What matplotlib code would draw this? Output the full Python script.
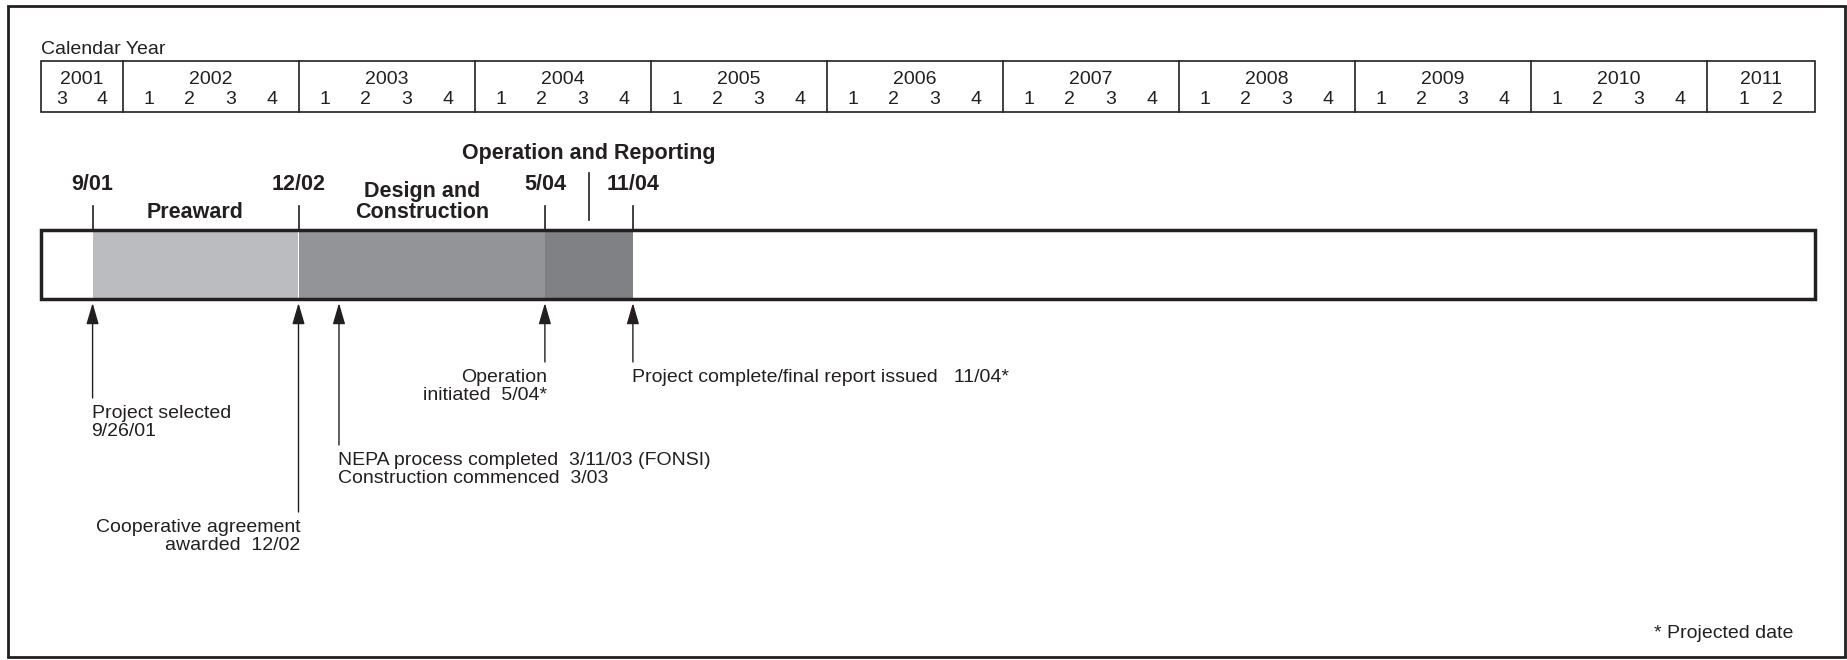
import matplotlib
matplotlib.use('Agg')
import matplotlib.pyplot as plt
from matplotlib.patches import Rectangle

plt.rcParams['font.family'] = ['Liberation Sans', 'DejaVu Sans']

# calendar header
years = list(range(2001, 2012))
year_quarters = {2001: [3, 4], 2011: [1, 2]}
table_start, table_end = 2001.537, 2011.616

# project phases
phases = ['Preaward', 'Design and\nConstruction', 'Operation and Reporting']
phase_start = [2001.83, 2003.0, 2004.40]
phase_end = [2003.0, 2004.40, 2004.90]
phase_colors = ['#bbbcbf', '#939497', '#808184']

# milestone dates above the bar
milestone_labels = ['9/01', '12/02', '5/04', '11/04']
milestone_x = [2001.83, 2003.0, 2004.40, 2004.90]

# events below the bar
events = ['Project selected\n9/26/01',
          'Cooperative agreement\nawarded  12/02',
          'NEPA process completed  3/11/03 (FONSI)\nConstruction commenced  3/03',
          'Operation\ninitiated  5/04*',
          'Project complete/final report issued   11/04*']
event_x = [2001.83, 2003.0, 2003.23, 2004.40, 2004.90]
event_tail = [398, 512, 445, 362, 362]
event_ha = ['left', 'right', 'left', 'right', 'left']

W, H = 1847, 660
fig = plt.figure(figsize=(W / 100, H / 100), dpi=100)
ax = fig.add_axes([0, 0, 1, 1])
px = 1 / 176.0  # one pixel in year units
ax.set_xlim(2002 - 122.5 * px, 2002 + (W - 122.5) * px)
ax.set_ylim(H, 0)
ax.axis('off')

ink = '#231f20'

# outer frame
fig.add_artist(Rectangle((8 / W, 1 - 657 / H), 1837 / W, 651 / H, transform=fig.transFigure,
                         fill=False, lw=2, ec=ink))

FS = 14
BFS = 15.5
ax.text(table_start, 49, 'Calendar Year', ha='left', va='center', fontsize=FS, color=ink)
ax.add_patch(Rectangle((table_start, 61), table_end - table_start, 51, fill=False, lw=1.2, ec=ink))
for y in years:
    lo = max(y, table_start)
    hi = min(y + 1, table_end)
    if y > years[0]:
        ax.plot([y, y], [61, 112], color=ink, lw=1.2)
    qs = year_quarters.get(y, [1, 2, 3, 4])
    center = (lo + hi) / 2
    ax.text(center, 80, str(y), ha='center', va='center', fontsize=FS, color=ink)
    step = 0.195 if y == years[-1] else 0.234
    for i, q in enumerate(qs):
        ax.text(center + (i - (len(qs) - 1) / 2) * step, 100, str(q), ha='center', va='center',
                fontsize=FS, color=ink)

# phase bar
for s, e, c in zip(phase_start, phase_end, phase_colors):
    ax.add_patch(Rectangle((s, 230), e - s, 69, color=c, lw=0, zorder=1))
ax.add_patch(Rectangle((table_start, 230), table_end - table_start, 69, fill=False, lw=2.5,
                       ec=ink, zorder=3))

for lab, x in zip(milestone_labels, milestone_x):
    ax.plot([x, x], [206, 230], color=ink, lw=1.2)
    ax.text(x, 184, lab, ha='center', va='center', fontsize=BFS, fontweight='bold', color=ink)

mids = [(s + e) / 2 for s, e in zip(phase_start, phase_end)]
ax.text(mids[0], 213, phases[0], ha='center', va='center', fontsize=BFS, fontweight='bold', color=ink)
ax.text(mids[1], 202, phases[1], ha='center', va='center', fontsize=BFS, fontweight='bold',
        color=ink, linespacing=0.95)
ax.text(mids[2], 154, phases[2], ha='center', va='center', fontsize=BFS, fontweight='bold', color=ink)
ax.plot([mids[2], mids[2]], [173, 220], color=ink, lw=1.2)

# event arrows
for txt, x, tail, ha in zip(events, event_x, event_tail, event_ha):
    ax.annotate('', xy=(x, 303), xytext=(x, tail),
                arrowprops=dict(arrowstyle='-|>,head_length=1.3,head_width=0.38', mutation_scale=10,
                                color=ink, lw=1, shrinkA=0, shrinkB=0))
    dx = -1 * px if ha == 'left' else 2 * px
    ax.text(x + dx, tail + 7, txt, ha=ha, va='top', fontsize=FS, linespacing=1.08, color=ink)

ax.text(2002 + (1793 - 122.5) * px, 634, '* Projected date', ha='right', va='center', fontsize=FS,
        color=ink)

fig.savefig('out.png', dpi=100)
